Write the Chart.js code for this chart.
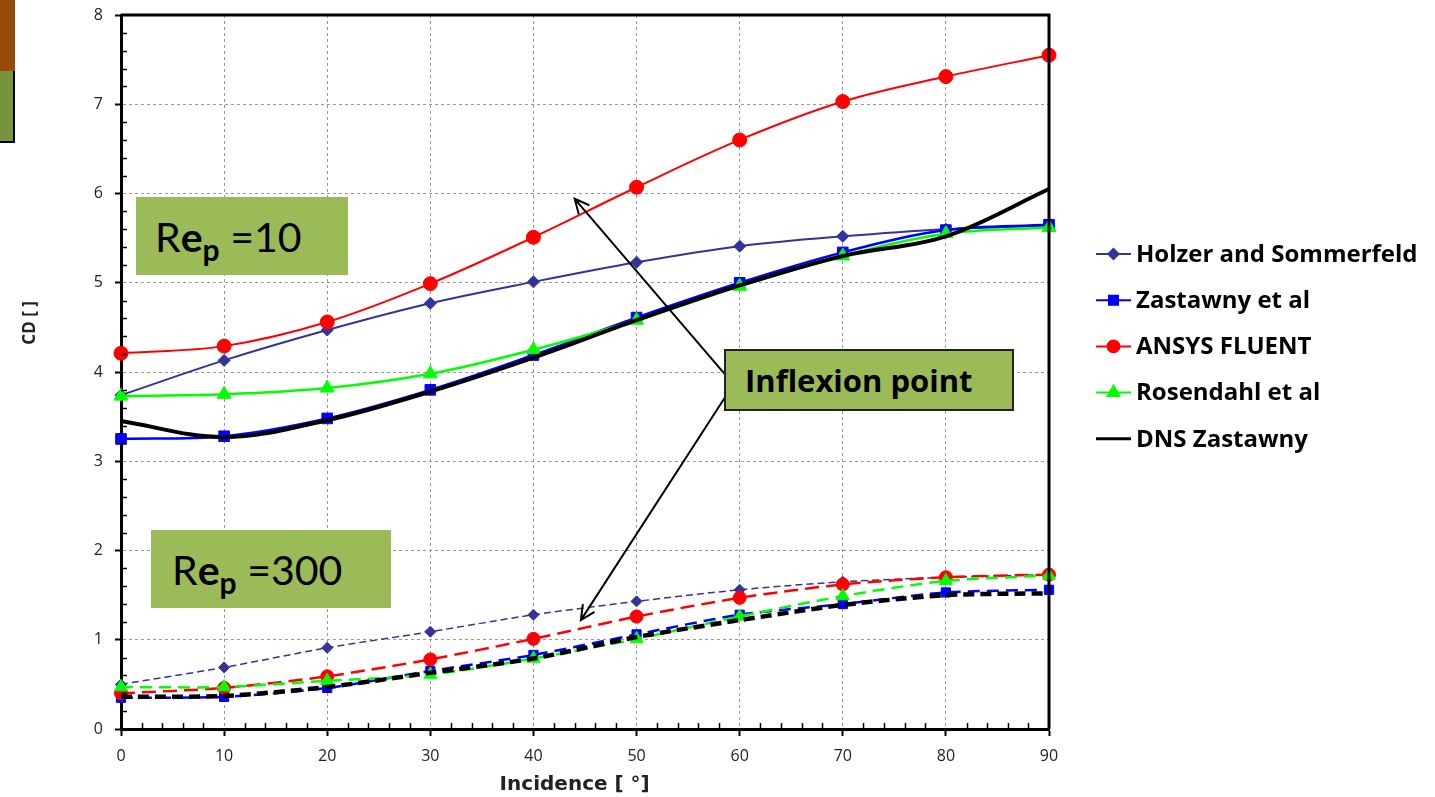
<!DOCTYPE html>
<html lang="en">

<head>
    <meta charset="UTF-8">
    <title>CD vs incidence</title>
    <style>
        body { margin: 0; background: #fff; }
        .wrap { position: relative; width: 1435px; height: 797px; overflow: hidden; }
        .deco1 { position: absolute; left: 0; top: 0; width: 15px; height: 71px; background: #984807; }
        .deco2 { position: absolute; left: 0; top: 71px; width: 13px; height: 70px; background: #77933C;
                 border-right: 2px solid #000; border-bottom: 2px solid #000; }
        .note { position: absolute; background: #9BBB59; display: flex; align-items: center;
                font-family: Lato, 'Open Sans', sans-serif; color: #000; box-sizing: border-box; }
        .re { font-size: 41px; }
        .re sub { font-size: 30px; font-weight: bold; vertical-align: -9px; line-height: 0; }
        .infl { border: 2px solid #222; font-weight: bold; font-size: 31px; font-family: 'Open Sans', sans-serif; }
    </style>
</head>

<body>
    <div class="wrap">
        <canvas id="cdChart" width="1435" height="797"></canvas>
        <div class="deco1"></div>
        <div class="deco2"></div>
        <div class="note re" style="left:136px;top:197px;width:212px;height:78px;padding-left:19px;">
            <span>R<b>e</b><sub>p</sub>&nbsp;=10</span></div>
        <div class="note re" style="left:151px;top:530px;width:240px;height:78px;padding-left:21px;">
            <span>R<b>e</b><sub>p</sub>&nbsp;=300</span></div>
        <div class="note infl" style="left:724px;top:349px;width:290px;height:62px;padding-left:19px;">
            Inflexion point</div>
    </div>

    <script src="https://cdn.jsdelivr.net/npm/chart.js"></script>
    <script>
        // incidence angle in degrees
        const incidence = [0, 10, 20, 30, 40, 50, 60, 70, 80, 90];

        // Re_p = 10 (solid curves)
        const holzer10 = [3.74, 4.13, 4.47, 4.77, 5.01, 5.23, 5.41, 5.52, 5.60, 5.64];
        const zastawny10 = [3.25, 3.28, 3.48, 3.80, 4.19, 4.61, 5.00, 5.34, 5.59, 5.65];
        const fluent10 = [4.21, 4.29, 4.56, 4.99, 5.51, 6.07, 6.60, 7.03, 7.31, 7.55];
        const rosendahl10 = [3.73, 3.75, 3.82, 3.98, 4.25, 4.58, 4.96, 5.30, 5.55, 5.62];
        const dns10 = [3.45, 3.27, 3.46, 3.78, 4.16, 4.58, 4.97, 5.30, 5.52, 6.05];

        // Re_p = 300 (dashed curves)
        const holzer300 = [0.50, 0.69, 0.91, 1.09, 1.28, 1.43, 1.56, 1.65, 1.70, 1.73];
        const zastawny300 = [0.35, 0.36, 0.46, 0.65, 0.83, 1.06, 1.28, 1.40, 1.53, 1.56];
        const fluent300 = [0.40, 0.46, 0.59, 0.78, 1.01, 1.26, 1.47, 1.62, 1.70, 1.73];
        const rosendahl300 = [0.47, 0.47, 0.54, 0.61, 0.79, 1.01, 1.26, 1.49, 1.66, 1.72];
        const dns300 = [0.36, 0.37, 0.47, 0.63, 0.79, 1.03, 1.22, 1.39, 1.50, 1.52];

        const legendNames = ['Holzer and Sommerfeld', 'Zastawny et al', 'ANSYS FLUENT', 'Rosendahl et al', 'DNS Zastawny'];

        // arrows of the "Inflexion point" note, in data units [x1, y1, x2 (tip), y2 (tip)]
        const arrows = [
            [58.6, 3.97, 44.0, 5.94],
            [58.6, 3.72, 44.6, 1.22]
        ];

        const pts = (ys) => incidence.map((x, i) => ({ x: x, y: ys[i] }));

        function solid(label, ys, color, style, r, w, order) {
            return {
                label: label, data: pts(ys), borderColor: color, backgroundColor: color,
                borderWidth: w, pointStyle: style, pointRadius: r, pointBorderWidth: 1,
                pointBackgroundColor: color, pointBorderColor: color,
                tension: 0.35, clip: false, order: order
            };
        }
        function dashed(label, ys, color, style, r, w, dash, order) {
            const d = solid(label, ys, color, style, r, w, order);
            d.borderDash = dash;
            d.tension = 0.25;
            return d;
        }

        const datasets = [
            solid(legendNames[0], holzer10, '#333399', 'rectRot', 6, 2, 5),
            solid(legendNames[1], zastawny10, '#0000FF', 'rect', 7.5, 2.5, 4),
            solid(legendNames[2], fluent10, '#FF0000', 'circle', 7, 2, 3),
            solid(legendNames[3], rosendahl10, '#00FF00', 'triangle', 8, 2.5, 2),
            solid(legendNames[4], dns10, '#000000', false, 0, 4, 1),
            dashed('Holzer 300', holzer300, '#333399', 'rectRot', 5.5, 1.5, [7, 4], 5),
            dashed('Zastawny 300', zastawny300, '#0000FF', 'rect', 6.5, 2.5, [12, 7], 4),
            dashed('FLUENT 300', fluent300, '#FF0000', 'circle', 6.5, 2.5, [14, 7], 3),
            dashed('Rosendahl 300', rosendahl300, '#00FF00', 'triangle', 7.5, 2.5, [12, 7], 2),
            dashed('DNS 300', dns300, '#000000', false, 0, 4.5, [11, 6], 1)
        ];

        // minor ticks, box frame, arrows, axis titles, legend
        const extras = {
            id: 'extras',
            afterDraw(chart) {
                const c = chart.ctx, a = chart.chartArea;
                const xs = chart.scales.x, ys = chart.scales.y;
                c.save();
                c.strokeStyle = '#000';
                c.lineWidth = 1.5;
                c.beginPath();
                for (let v = 0.2; v < 8; v += 0.2) {
                    if (Math.abs(v - Math.round(v)) < 0.01) continue;
                    const py = Math.round(ys.getPixelForValue(v)) + 0.5;
                    c.moveTo(a.left, py); c.lineTo(a.left + 6, py);
                }
                for (let v = 2; v < 90; v += 2) {
                    if (v % 10 === 0) continue;
                    const px = Math.round(xs.getPixelForValue(v)) + 0.5;
                    c.moveTo(px, a.bottom); c.lineTo(px, a.bottom - 6);
                }
                c.stroke();

                // top and right frame
                c.lineWidth = 3;
                c.beginPath();
                c.moveTo(a.left, a.top); c.lineTo(a.right, a.top); c.lineTo(a.right, a.bottom);
                c.stroke();

                // arrows
                c.lineWidth = 2;
                arrows.forEach(([x1, y1, x2, y2]) => {
                    const p1x = xs.getPixelForValue(x1), p1y = ys.getPixelForValue(y1);
                    const p2x = xs.getPixelForValue(x2), p2y = ys.getPixelForValue(y2);
                    const ang = Math.atan2(p2y - p1y, p2x - p1x);
                    c.beginPath();
                    c.moveTo(p1x, p1y); c.lineTo(p2x, p2y);
                    c.moveTo(p2x - 16 * Math.cos(ang - 0.45), p2y - 16 * Math.sin(ang - 0.45));
                    c.lineTo(p2x, p2y);
                    c.lineTo(p2x - 16 * Math.cos(ang + 0.45), p2y - 16 * Math.sin(ang + 0.45));
                    c.stroke();
                });

                // axis titles (placed like the original, slightly off centre)
                c.fillStyle = '#222';
                c.textAlign = 'center';
                c.textBaseline = 'middle';
                c.font = 'bold 20px "DejaVu Sans"';
                c.fillText('Incidence [ °]', xs.getPixelForValue(44), 785);
                c.save();
                c.translate(30, ys.getPixelForValue(4.55));
                c.rotate(-Math.PI / 2);
                c.font = 'bold 17px "Open Sans"';
                c.fillText('CD [ ]', 0, 0);
                c.restore();

                // legend (Re_p = 10 series only)
                const lx = a.right + 47;
                c.font = 'bold 24px "Open Sans", sans-serif';
                c.textAlign = 'left';
                for (let i = 0; i < 5; i++) {
                    const ds = chart.data.datasets[i];
                    const ly = 254 + i * 46.2;
                    c.strokeStyle = ds.borderColor;
                    c.lineWidth = i === 4 ? 3 : 2;
                    c.beginPath(); c.moveTo(lx, ly); c.lineTo(lx + 35, ly); c.stroke();
                    if (ds.pointStyle) {
                        c.fillStyle = ds.pointBackgroundColor;
                        c.strokeStyle = ds.pointBorderColor;
                        Chart.helpers.drawPoint(c, { pointStyle: ds.pointStyle, radius: ds.pointRadius * 0.85, rotation: 0, borderWidth: 1 }, lx + 17.5, ly);
                    }
                    c.fillStyle = '#000';
                    c.fillText(ds.label, lx + 40, ly + 1);
                }
                c.restore();
            }
        };

        const tickFont = { family: 'Open Sans', size: 16 };

        const config = {
            type: 'line',
            data: { datasets: datasets },
            options: {
                responsive: false,
                animation: false,
                devicePixelRatio: 1,
                layout: { padding: { top: 15, right: 386, left: 0, bottom: 0 } },
                plugins: { legend: { display: false }, tooltip: { enabled: false } },
                scales: {
                    x: {
                        type: 'linear', min: 0, max: 90,
                        ticks: { stepSize: 10, color: '#222', font: tickFont, padding: 11, maxRotation: 0 },
                        grid: { color: '#999', lineWidth: 1, tickColor: '#000', tickWidth: 2, tickLength: 7, tickBorderDash: [1, 0] },
                        border: { color: '#000', width: 3, dash: [3, 3] },
                        afterFit(s) { s.height = 68; s.paddingLeft = 0; s.paddingRight = 0; }
                    },
                    y: {
                        min: 0, max: 8,
                        ticks: { stepSize: 1, color: '#222', font: tickFont, padding: 12 },
                        grid: { color: '#999', lineWidth: 1, tickColor: '#000', tickWidth: 2, tickLength: 6, tickBorderDash: [1, 0] },
                        border: { color: '#000', width: 3, dash: [3, 3] },
                        afterFit(s) { s.width = 121; s.paddingTop = 0; s.paddingBottom = 0; }
                    }
                }
            },
            plugins: [extras]
        };

        const ctx = document.getElementById('cdChart');
        const cdChart = new Chart(ctx, config);
    </script>
</body>

</html>
